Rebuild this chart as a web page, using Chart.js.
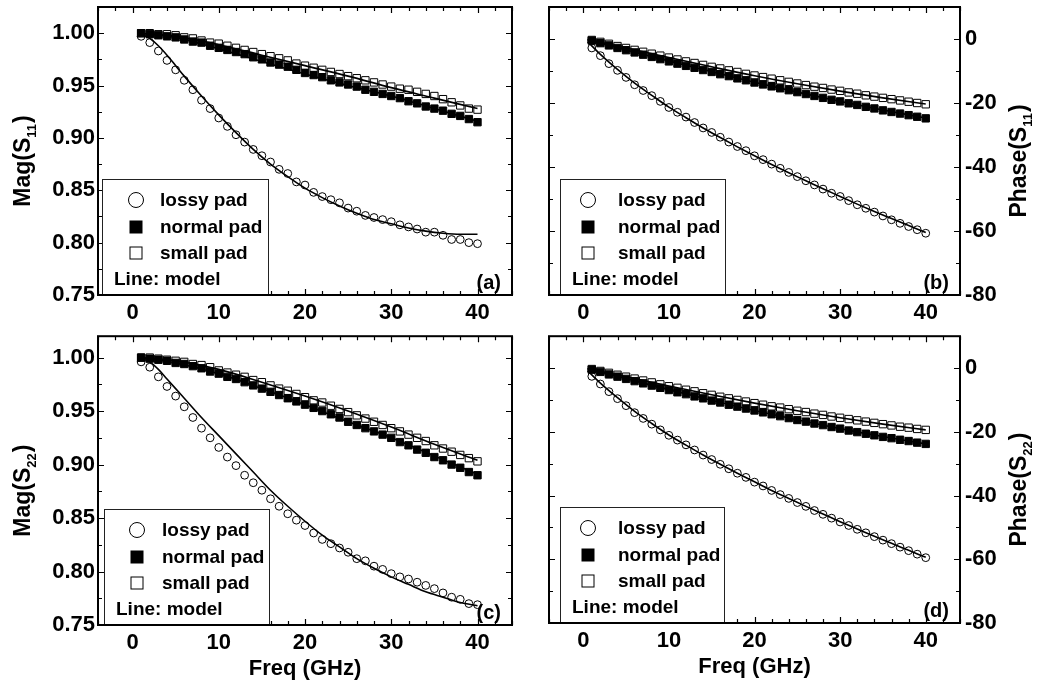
<!DOCTYPE html>
<html>
<head>
<meta charset="utf-8">
<script src="https://cdn.jsdelivr.net/npm/chart.js@4.4.1/dist/chart.umd.min.js"></script>
<style>
  body { margin: 0; background: #fff; }
  #wrap { position: relative; width: 1064px; height: 683px; }
  canvas { position: absolute; }
</style>
</head>
<body>
<div id="wrap">
  <canvas id="cA" width="532" height="330" style="left:0;top:0"></canvas>
  <canvas id="cB" width="532" height="330" style="left:532px;top:0"></canvas>
  <canvas id="cC" width="532" height="353" style="left:0;top:330px"></canvas>
  <canvas id="cD" width="532" height="353" style="left:532px;top:330px"></canvas>
</div>
<script>
// frequency points (GHz)
const freq = [1,2,3,4,5,6,7,8,9,10,11,12,13,14,15,16,17,18,19,20,21,22,23,24,25,26,27,28,29,30,31,32,33,34,35,36,37,38,39,40];
const freqTicks = [0, 10, 20, 30, 40];
const magTicks = [0.75, 0.80, 0.85, 0.90, 0.95, 1.00];
const phaseTicks = [-80, -60, -40, -20, 0];
const legendNames = ["lossy pad", "normal pad", "small pad"];

// (a) Mag(S11)
const magS11Lossy = [0.997,0.991,0.983,0.974,0.965,0.955,0.946,0.936,0.928,0.919,0.911,0.903,0.896,0.889,0.883,0.877,0.870,0.866,0.858,0.855,0.848,0.844,0.841,0.838,0.833,0.830,0.826,0.824,0.822,0.820,0.817,0.815,0.813,0.810,0.810,0.807,0.803,0.803,0.800,0.799];
const magS11Normal = [1.000,0.999,0.998,0.997,0.996,0.994,0.992,0.991,0.988,0.986,0.984,0.982,0.980,0.977,0.975,0.972,0.970,0.968,0.965,0.962,0.960,0.958,0.955,0.953,0.951,0.949,0.946,0.944,0.942,0.940,0.938,0.935,0.933,0.930,0.928,0.926,0.923,0.921,0.918,0.915];
const magS11Small = [1.000,1.000,0.999,0.999,0.998,0.996,0.995,0.993,0.991,0.990,0.988,0.986,0.984,0.982,0.980,0.978,0.976,0.974,0.971,0.969,0.967,0.965,0.963,0.961,0.959,0.957,0.955,0.953,0.951,0.949,0.947,0.946,0.944,0.942,0.940,0.937,0.934,0.931,0.928,0.927];

// (b) Phase(S11)
const phS11Lossy = [-2.8,-5.2,-7.7,-9.8,-12.0,-14.3,-16.1,-17.7,-19.5,-21.4,-22.9,-24.4,-26.1,-27.8,-29.2,-30.7,-32.2,-33.6,-34.9,-36.5,-37.7,-39.1,-40.4,-41.7,-43.0,-44.3,-45.6,-46.9,-48.2,-49.2,-50.5,-51.8,-52.9,-54.1,-55.3,-56.5,-57.6,-58.6,-59.6,-60.7];
const phS11Normal = [-0.5,-1.3,-2.0,-2.8,-3.5,-4.2,-4.9,-5.6,-6.3,-7.0,-7.7,-8.4,-9.0,-9.7,-10.3,-11.0,-11.6,-12.3,-12.9,-13.6,-14.2,-14.8,-15.4,-16.0,-16.6,-17.2,-17.8,-18.4,-19.0,-19.5,-20.1,-20.6,-21.2,-21.7,-22.3,-22.8,-23.3,-23.8,-24.3,-24.8];
const phS11Small = [-0.3,-0.9,-1.5,-2.2,-2.8,-3.4,-4.0,-4.6,-5.2,-5.8,-6.4,-7.0,-7.5,-8.1,-8.7,-9.2,-9.8,-10.3,-10.9,-11.4,-11.9,-12.4,-12.9,-13.4,-13.9,-14.4,-14.9,-15.3,-15.8,-16.2,-16.7,-17.1,-17.6,-18.0,-18.4,-18.8,-19.2,-19.6,-20.0,-20.4];

// (c) Mag(S22)
const magS22Lossy = [0.996,0.991,0.982,0.973,0.964,0.954,0.944,0.934,0.925,0.916,0.907,0.899,0.890,0.883,0.876,0.868,0.861,0.854,0.848,0.843,0.836,0.830,0.826,0.822,0.818,0.812,0.810,0.805,0.802,0.798,0.795,0.793,0.790,0.787,0.784,0.780,0.776,0.774,0.770,0.769];
const magS22Normal = [1.000,0.999,0.998,0.997,0.995,0.994,0.992,0.990,0.987,0.985,0.982,0.980,0.977,0.974,0.971,0.968,0.965,0.962,0.959,0.956,0.953,0.950,0.947,0.944,0.940,0.937,0.934,0.931,0.928,0.925,0.921,0.918,0.914,0.911,0.907,0.904,0.900,0.897,0.893,0.890];
const magS22Small = [1.000,1.000,0.999,0.998,0.997,0.996,0.994,0.993,0.991,0.988,0.986,0.984,0.982,0.979,0.977,0.974,0.971,0.969,0.966,0.963,0.960,0.958,0.955,0.952,0.949,0.946,0.943,0.940,0.937,0.934,0.931,0.928,0.925,0.922,0.918,0.915,0.912,0.909,0.906,0.903];

// (d) Phase(S22)
const phS22Lossy = [-2.6,-5.0,-7.4,-9.6,-11.8,-14.0,-15.8,-17.6,-19.4,-21.1,-22.6,-24.1,-25.7,-27.3,-28.7,-30.2,-31.6,-33.0,-34.3,-35.8,-37.0,-38.4,-39.7,-40.9,-42.2,-43.4,-44.7,-45.9,-47.1,-48.3,-49.4,-50.6,-51.7,-52.9,-54.0,-55.1,-56.2,-57.3,-58.4,-59.5];
const phS22Normal = [-0.5,-1.2,-2.0,-2.7,-3.4,-4.1,-4.8,-5.5,-6.2,-6.9,-7.6,-8.2,-8.9,-9.5,-10.2,-10.8,-11.5,-12.1,-12.7,-13.3,-13.9,-14.5,-15.1,-15.7,-16.3,-16.8,-17.4,-17.9,-18.5,-19.0,-19.6,-20.1,-20.6,-21.1,-21.6,-22.0,-22.5,-22.9,-23.4,-23.8];
const phS22Small = [-0.3,-0.9,-1.5,-2.1,-2.7,-3.3,-3.9,-4.5,-5.1,-5.7,-6.2,-6.8,-7.3,-7.9,-8.4,-9.0,-9.5,-10.0,-10.5,-11.0,-11.5,-12.0,-12.4,-12.9,-13.4,-13.8,-14.3,-14.7,-15.2,-15.6,-16.0,-16.4,-16.8,-17.2,-17.6,-18.0,-18.4,-18.7,-19.1,-19.4];

// model curves
const modelMagX = [1,2,3,4,5,6,8,10,12,14,16,18,20,22,24,26,28,30,32,34,36,38,40];
const modelMagS11Lossy = [0.999,0.995,0.988,0.979,0.969,0.959,0.940,0.922,0.905,0.889,0.875,0.863,0.852,0.843,0.835,0.828,0.822,0.818,0.814,0.811,0.809,0.808,0.808];
const modelMagS22Lossy = [0.999,0.996,0.989,0.980,0.971,0.962,0.944,0.927,0.910,0.893,0.876,0.861,0.847,0.834,0.823,0.812,0.803,0.795,0.788,0.781,0.776,0.771,0.768];
const modelPadX = [1,5,10,15,20,25,30,35,40];
const modelMagS11Normal = [1.000,0.996,0.985,0.973,0.961,0.950,0.940,0.928,0.916];
const modelMagS11Small = [1.000,0.997,0.989,0.979,0.969,0.959,0.948,0.938,0.928];
const modelMagS22Normal = [1.000,0.995,0.985,0.971,0.956,0.940,0.925,0.908,0.891];
const modelMagS22Small = [1.000,0.997,0.989,0.977,0.964,0.950,0.935,0.919,0.904];
const modelPhX = [0.5,2,4,6,8,10,12,14,16,18,20,22,24,26,28,30,32,34,36,38,40];
const modelPhS11Lossy = [-0.8,-4.8,-9.5,-13.8,-17.6,-21.3,-24.6,-27.8,-30.8,-33.7,-36.5,-39.2,-41.8,-44.3,-46.8,-49.2,-51.6,-53.9,-56.1,-58.3,-60.5];
const modelPhS22Lossy = [-0.8,-4.7,-9.3,-13.6,-17.4,-21.0,-24.2,-27.3,-30.2,-33.0,-35.7,-38.4,-40.9,-43.4,-45.8,-48.2,-50.5,-52.8,-55.0,-57.2,-59.4];
const modelPhPadX = [0.5,5,10,15,20,25,30,35,40];
const modelPhS11Normal = [-0.2,-3.4,-6.9,-10.2,-13.5,-16.6,-19.5,-22.2,-24.7];
const modelPhS11Small = [-0.2,-2.8,-5.8,-8.7,-11.5,-14.0,-16.3,-18.4,-20.3];
const modelPhS22Normal = [-0.2,-3.3,-6.8,-10.1,-13.3,-16.2,-19.0,-21.5,-23.8];
const modelPhS22Small = [-0.2,-2.7,-5.6,-8.4,-11.0,-13.4,-15.6,-17.6,-19.4];

const FONT = "'Liberation Sans', Arial, sans-serif";
Chart.defaults.font.family = FONT;
Chart.defaults.color = "#000";

function pts(xs, ys) { return xs.map((x, i) => ({ x: x, y: ys[i] })); }

function drawMarker(ctx, kind, x, y, s) {
  ctx.lineWidth = 1;
  ctx.strokeStyle = "#000";
  if (kind === "circle") {
    ctx.beginPath(); ctx.arc(x, y, s / 2, 0, Math.PI * 2); ctx.stroke();
  } else if (kind === "filled") {
    ctx.fillStyle = "#000"; ctx.fillRect(x - s / 2, y - s / 2, s, s);
  } else {
    ctx.strokeRect(x - s / 2 + 0.5, y - s / 2 + 0.5, s - 1, s - 1);
  }
}

function noPad(s) {
  s.paddingTop = 0; s.paddingBottom = 0; s.paddingLeft = 0; s.paddingRight = 0;
}

// frame, inward ticks, titles, legend, panel label
const decor = {
  id: "decor",
  afterDraw(chart, args, o) {
    const ctx = chart.ctx, ca = chart.chartArea;
    const xs = chart.scales.x, ys = chart.scales.y;
    ctx.save();
    ctx.strokeStyle = "#000";
    ctx.lineWidth = 1.2;
    ctx.beginPath();
    for (let v = -4; v <= 44; v += 2) {
      const px = Math.round(xs.getPixelForValue(v)) + 0.5;
      const len = v % 10 === 0 ? 6 : 4;
      ctx.moveTo(px, ca.bottom); ctx.lineTo(px, ca.bottom - len);
      ctx.moveTo(px, ca.top); ctx.lineTo(px, ca.top + len);
    }
    for (let k = 0; ; k++) {
      const v = o.yStart + k * o.yMinor;
      if (v > ys.max + 1e-9) break;
      const py = Math.round(ys.getPixelForValue(v)) + 0.5;
      const len = k % 2 === 0 ? 6 : 4;
      ctx.moveTo(ca.left, py); ctx.lineTo(ca.left + len, py);
      ctx.moveTo(ca.right, py); ctx.lineTo(ca.right - len, py);
    }
    ctx.stroke();

    // legend box
    const bx = ca.left + o.legendDx, bw = o.legendW, bh = 116, by = ca.bottom - bh;
    ctx.fillStyle = "#fff";
    ctx.fillRect(bx, by, bw, bh);
    ctx.lineWidth = 1;
    ctx.strokeStyle = "#222";
    ctx.strokeRect(bx + 0.5, by + 0.5, bw, bh);
    const kinds = ["circle", "filled", "open"];
    const rows = [21, 48, 74];
    ctx.font = "bold 19px " + FONT;
    ctx.textBaseline = "middle";
    ctx.textAlign = "left";
    for (let i = 0; i < 3; i++) {
      drawMarker(ctx, kinds[i], bx + o.markerDx, by + rows[i], i === 0 ? 15 : 13);
      ctx.fillStyle = "#000";
      ctx.fillText(legendNames[i], bx + 58, by + rows[i] + 1);
    }
    ctx.fillText("Line: model", bx + 12, by + 101);

    // panel label
    ctx.font = "bold 20px " + FONT;
    ctx.textAlign = "right";
    ctx.textBaseline = "alphabetic";
    ctx.fillText(o.panel, ca.right - 11, ca.bottom - 6);

    // frame
    ctx.lineWidth = 2;
    ctx.strokeStyle = "#000";
    ctx.strokeRect(ca.left, ca.top, ca.width, ca.height);

    // y title with subscript
    const tx = o.titleSide === "left" ? ca.left - 76 : ca.right + 58;
    const ty = (ca.top + ca.bottom) / 2 + 10;
    ctx.translate(tx, ty);
    ctx.rotate(-Math.PI / 2);
    ctx.textAlign = "left";
    ctx.font = "bold 23px " + FONT;
    const w1 = ctx.measureText(o.title[0]).width;
    const w3 = ctx.measureText(o.title[2]).width;
    ctx.font = "bold 13px " + FONT;
    const w2 = ctx.measureText(o.title[1]).width + 1;
    let sx = -(w1 + w2 + w3) / 2;
    ctx.font = "bold 23px " + FONT;
    ctx.fillText(o.title[0], sx, 8);
    ctx.font = "bold 13px " + FONT;
    ctx.fillText(o.title[1], sx + w1, 14);
    ctx.font = "bold 23px " + FONT;
    ctx.fillText(o.title[2], sx + w1 + w2, 8);
    ctx.setTransform(1, 0, 0, 1, 0, 0);

    // x title
    if (o.xTitle) {
      ctx.font = "bold 22px " + FONT;
      ctx.textAlign = "center";
      ctx.textBaseline = "middle";
      ctx.fillText(o.xTitle, (ca.left + ca.right) / 2, ca.bottom + 44);
    }
    ctx.restore();
  }
};

function makeChart(id, p) {
  const isMag = p.kind === "mag";
  const datasets = [
    { data: pts(p.mLossyX, p.mLossy), showLine: true, borderColor: "#000", borderWidth: 1.6, pointRadius: 0, cubicInterpolationMode: "monotone" },
    { data: pts(p.mPadX, p.mNormal), showLine: true, borderColor: "#000", borderWidth: 1.6, pointRadius: 0, cubicInterpolationMode: "monotone" },
    { data: pts(p.mPadX, p.mSmall), showLine: true, borderColor: "#000", borderWidth: 1.6, pointRadius: 0, cubicInterpolationMode: "monotone" },
    { data: pts(freq, p.lossy), pointStyle: "circle", pointRadius: 3.9, borderWidth: 1, borderColor: "#000", backgroundColor: "rgba(0,0,0,0)" },
    { data: pts(freq, p.small), pointStyle: "rect", pointRadius: 5.2, borderWidth: 1, borderColor: "#000", backgroundColor: "rgba(255,255,255,0)" },
    { data: pts(freq, p.normal), pointStyle: "rect", pointRadius: 5.2, borderWidth: 1, borderColor: "#000", backgroundColor: "#000" }
  ];
  return new Chart(document.getElementById(id), {
    type: "scatter",
    data: { datasets: datasets },
    options: {
      responsive: false,
      animation: false,
      events: [],
      layout: { padding: p.padding },
      plugins: {
        legend: { display: false },
        tooltip: { enabled: false },
        decor: {
          yStart: isMag ? 0.75 : -80,
          yMinor: isMag ? 0.025 : 10,
          title: p.title,
          titleSide: isMag ? "left" : "right",
          xTitle: p.xTitle,
          panel: p.panel,
          legendDx: p.legendDx,
          legendW: p.legendW,
          markerDx: p.markerDx
        }
      },
      scales: {
        x: {
          type: "linear",
          min: -4, max: 44,
          grid: { display: false, drawTicks: false },
          border: { display: false },
          afterBuildTicks: s => { s.ticks = freqTicks.map(v => ({ value: v })); },
          afterFit: s => { s.height = p.xHeight; noPad(s); },
          ticks: { font: { size: 22, weight: "bold" }, padding: 5, maxRotation: 0, callback: v => String(v) }
        },
        y: {
          type: "linear",
          position: isMag ? "left" : "right",
          min: isMag ? 0.75 : -80,
          max: isMag ? p.yMax : 10,
          grid: { display: false, drawTicks: false },
          border: { display: false },
          afterBuildTicks: s => { s.ticks = (isMag ? magTicks : phaseTicks).map(v => ({ value: v })); },
          afterFit: s => { s.width = isMag ? 98 : 104; noPad(s); },
          ticks: { font: { size: 22, weight: "bold" }, padding: isMag ? 3 : 5, callback: v => isMag ? v.toFixed(2) : String(v) }
        }
      }
    },
    plugins: [decor]
  });
}

makeChart("cA", {
  kind: "mag", yMax: 1.025, panel: "(a)", title: ["Mag(S", "11", ")"], xTitle: null,
  lossy: magS11Lossy, normal: magS11Normal, small: magS11Small,
  mLossyX: modelMagX, mLossy: modelMagS11Lossy, mPadX: modelPadX, mNormal: modelMagS11Normal, mSmall: modelMagS11Small,
  padding: { top: 7, right: 20, left: 0, bottom: 0 }, xHeight: 35, legendDx: 4, legendW: 166, markerDx: 34
});
makeChart("cB", {
  kind: "phase", panel: "(b)", title: ["Phase(S", "11", ")"], xTitle: null,
  lossy: phS11Lossy, normal: phS11Normal, small: phS11Small,
  mLossyX: modelPhX, mLossy: modelPhS11Lossy, mPadX: modelPhPadX, mNormal: modelPhS11Normal, mSmall: modelPhS11Small,
  padding: { top: 7, right: 0, left: 17, bottom: 0 }, xHeight: 35, legendDx: 11, legendW: 165, markerDx: 28
});
makeChart("cC", {
  kind: "mag", yMax: 1.02, panel: "(c)", title: ["Mag(S", "22", ")"], xTitle: "Freq (GHz)",
  lossy: magS22Lossy, normal: magS22Normal, small: magS22Small,
  mLossyX: modelMagX, mLossy: modelMagS22Lossy, mPadX: modelPadX, mNormal: modelMagS22Normal, mSmall: modelMagS22Small,
  padding: { top: 6, right: 20, left: 0, bottom: 0 }, xHeight: 58, legendDx: 6, legendW: 165, markerDx: 33
});
makeChart("cD", {
  kind: "phase", panel: "(d)", title: ["Phase(S", "22", ")"], xTitle: "Freq (GHz)",
  lossy: phS22Lossy, normal: phS22Normal, small: phS22Small,
  mLossyX: modelPhX, mLossy: modelPhS22Lossy, mPadX: modelPhPadX, mNormal: modelPhS22Normal, mSmall: modelPhS22Small,
  padding: { top: 6, right: 0, left: 17, bottom: 0 }, xHeight: 60, legendDx: 11, legendW: 164, markerDx: 28
});
</script>
</body>
</html>
